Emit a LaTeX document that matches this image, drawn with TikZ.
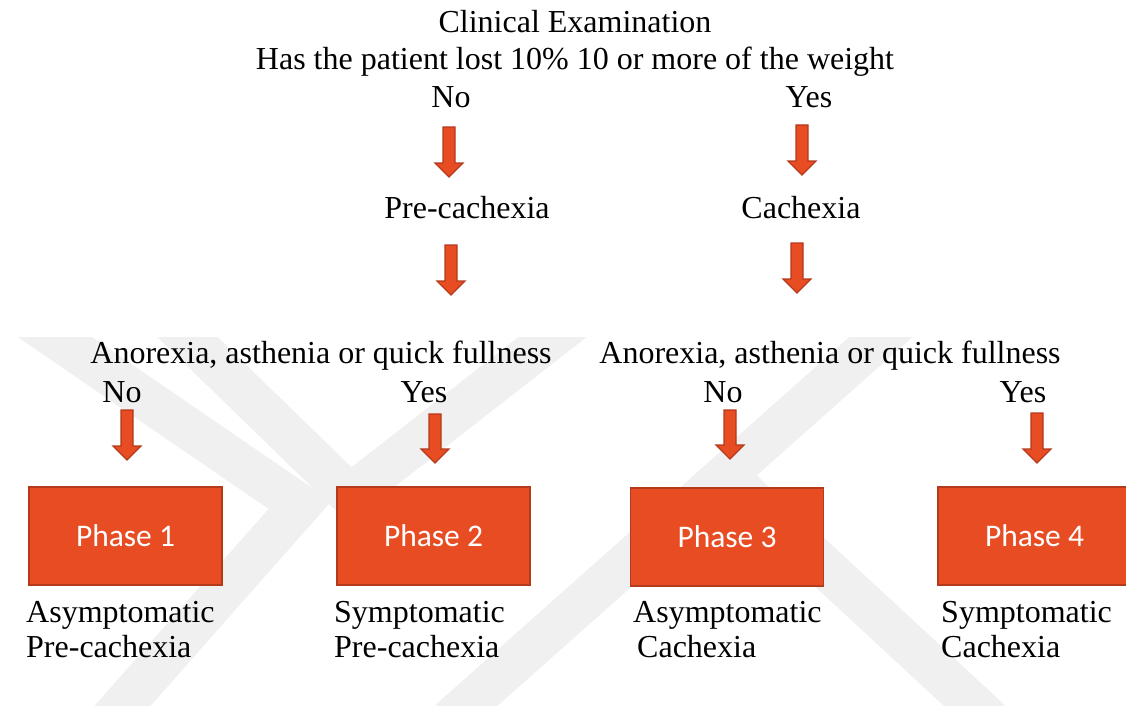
\documentclass[tikz,border=0pt]{standalone}
\usepackage{fontspec}
\setmainfont{Liberation Serif}
\newfontfamily\calibri{Carlito}
\usetikzlibrary{calc}
\definecolor{phasered}{HTML}{E84C22}
\definecolor{phaseedge}{HTML}{B5391B}
\definecolor{wmgray}{HTML}{F0F0F0}
% block arrow pointing down, from #1 to #2
\newcommand{\phasearrow}[2]{\draw[blockarrow] ($(#1)+(-6,0)$) -- ($(#2)+(-6,-14)$) -- ($(#2)+(-14,-14)$) -- (#2) -- ($(#2)+(14,-14)$) -- ($(#2)+(6,-14)$) -- ($(#1)+(6,0)$) -- cycle;}

\begin{document}
\begin{tikzpicture}[x=1pt, y=-1pt,
  txt/.style={font=\fontsize{32}{35}\selectfont, inner sep=0pt, anchor=base},
  lbl/.style={font=\fontsize{32}{35}\selectfont, inner sep=0pt, anchor=base west, align=left},
  phase/.style={draw=phaseedge, line width=1.6pt, fill=phasered, text=white, minimum width=193pt, minimum height=98pt, font=\calibri\fontsize{31.5}{35}\selectfont},
  blockarrow/.style={draw=phaseedge, line width=1.2pt, fill=phasered, line join=miter},
  wmband/.style={draw=wmgray, line width=42pt, line join=miter}]
\useasboundingbox (0,0) rectangle (1126,706);

% watermark
\begin{scope}
\clip (0,337) rectangle (1126,706);
\draw[wmband] (30,320) -- (300,505) -- (110,720);
\draw[wmband] (170,320) -- (350,495) -- (600,300);
\draw[wmband] (900,320) -- (450,720);
\draw[wmband] (720,470) -- (990,720);
\end{scope}

% question
\node[txt] (clin) at (575,33) {Clinical Examination};
\node[txt] (quest) at (575,70) {Has the patient lost 10\% 10 or more of the weight};
\node[txt] (no1) at (451,107) {No};
\node[txt] (yes1) at (809,107) {Yes};
\node[txt] (pre) at (467,218) {Pre-cachexia};
\node[txt] (cach) at (801,218) {Cachexia};

% symptoms
\node[txt] (symL) at (321,363) {Anorexia, asthenia or quick fullness};
\node[txt] (symR) at (830,363) {Anorexia, asthenia or quick fullness};
\node[txt] (noL) at (122,402) {No};
\node[txt] (yesL) at (424,402) {Yes};
\node[txt] (noR) at (723,402) {No};
\node[txt] (yesR) at (1023,402) {Yes};

% phases
\node[phase] (p1) at (125.5,536) {Phase 1};
\node[phase] (p2) at (433.5,536) {Phase 2};
\node[phase] (p3) at (727,537) {Phase 3};
\node[phase] (p4) at (1034.5,536) {Phase 4};

\node[lbl] (d1) at (26,657) {Asymptomatic\\Pre-cachexia};
\node[lbl] (d2) at (334,657) {Symptomatic\\Pre-cachexia};
\node[lbl] (d3) at (633,657) {Asymptomatic\\\hspace{4pt}Cachexia};
\node[lbl] (d4) at (941,657) {Symptomatic\\Cachexia};

% arrows
\foreach \n/\x/\ya/\yb in {a1/449/127/177, a2/802/125/175, a3/451/245/295, a4/797/243/293,
  b1/127/410/460, b2/435/414/463, b3/730/410/459, b4/1037/413/463}{
  \coordinate (\n-s) at (\x,\ya);
  \coordinate (\n-e) at (\x,\yb);
  \phasearrow{\n-s}{\n-e}
}
\end{tikzpicture}
\end{document}
